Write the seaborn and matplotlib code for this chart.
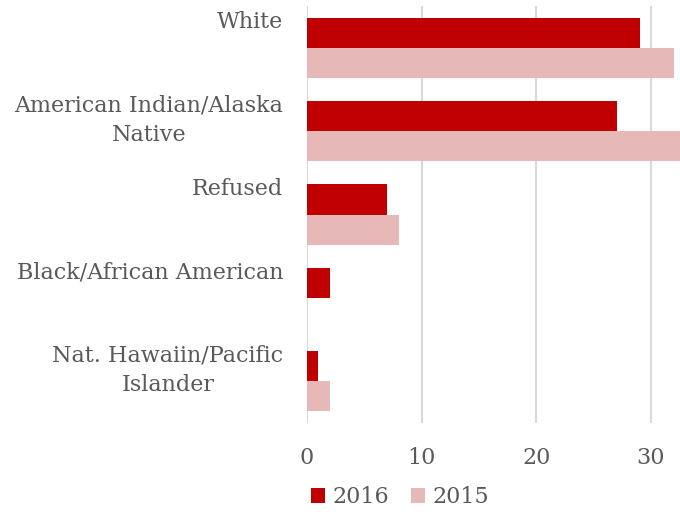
import pandas as pd
import seaborn as sns
import matplotlib.pyplot as plt
from matplotlib.transforms import ScaledTranslation

# Daten aus dem Diagramm
categories = ['White', 'American Indian/Alaska\nNative', 'Refused',
              'Black/African American', 'Nat. Hawaiin/Pacific\nIslander']
values_2016 = [29, 27, 7, 2, 1]
values_2015 = [32, 33, 8, 0, 2]
years = ['2016', '2015']
colors = ['#C00000', '#E6B9B8']

df = pd.DataFrame({
    'category': categories * 2,
    'value': values_2016 + values_2015,
    'year': [years[0]] * len(categories) + [years[1]] * len(categories),
})

sns.set_style('white')
plt.rcParams['font.family'] = ['DejaVu Serif']
text_color = '#595959'
grid_color = '#D9D9D9'

fig = plt.figure(figsize=(6.8, 5.12), dpi=100)
ax = fig.add_axes([0.4515, 0.1738, 0.5485, 0.8145])

sns.barplot(data=df, x='value', y='category', hue='year', order=categories,
            hue_order=years, palette=colors, orient='h', width=0.72,
            saturation=1, linewidth=0, ax=ax)

# Achsen wie im Original (rechts abgeschnitten)
ax.set_xlim(0, 32.53)
ax.set_ylim(4.5, -0.5)
ax.set_xticks([0, 10, 20, 30])
ax.set_xlabel('')
ax.set_ylabel('')
ax.grid(axis='x', color=grid_color, linewidth=1.5)
ax.set_axisbelow(True)
for s in ax.spines.values():
    s.set_visible(False)

ax.tick_params(axis='x', length=4, width=1.5, color=grid_color, pad=13,
               labelsize=16, labelcolor=text_color)
ax.tick_params(axis='y', length=0, pad=17, labelsize=16, labelcolor=text_color)

# Kategorienamen oben im Band ausrichten
shift = ScaledTranslation(0, 36.5 / 100, fig.dpi_scale_trans)
for lab in ax.get_yticklabels():
    lab.set_va('top')
    lab.set_multialignment('center')
    lab.set_linespacing(1.45)
    lab.set_transform(lab.get_transform() + shift)

# Legende unten
ax.get_legend().remove()
handles, labels = ax.get_legend_handles_labels()
fig.legend(handles, labels, loc='center', bbox_to_anchor=(0.588, 0.029),
           ncol=2, frameon=False, fontsize=16, labelcolor=text_color,
           handlelength=0.65, handleheight=0.65, handletextpad=0.3,
           columnspacing=1.0, borderpad=0)

plt.savefig('out.png', dpi=100)
